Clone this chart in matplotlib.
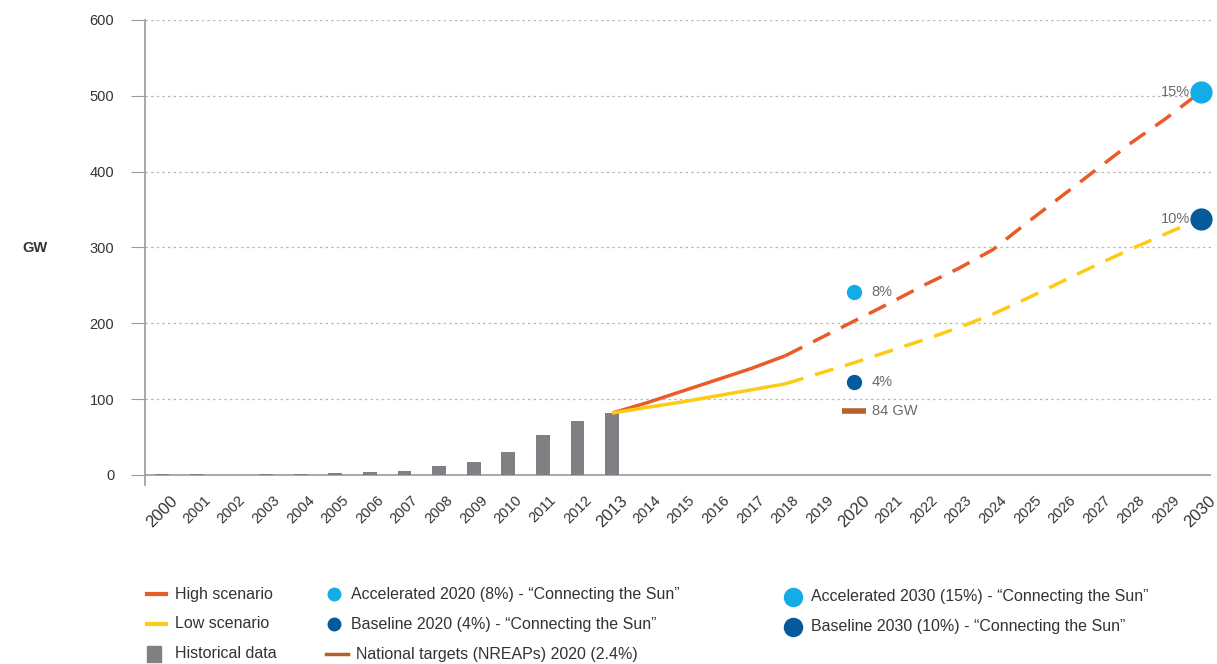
import numpy as np
from matplotlib import pyplot as plt
from matplotlib.lines import Line2D
from matplotlib.patches import Rectangle

plt.rcParams['font.family'] = ['Liberation Sans', 'DejaVu Sans']

# data
years = list(range(2000, 2031))
hist_years = list(range(2000, 2014))
hist_gw = [1.2, 1.0, 0.4, 0.6, 1.3, 2.3, 3.3, 5.3, 11.3, 16.9, 30.5, 52.9, 70.8, 81.5]

solid_years = [2013, 2014, 2015, 2016, 2017, 2018]
high_solid = [81.5, 95, 110, 125, 140, 157]
low_solid = [81.5, 89, 96, 104, 112, 120]

dash_years = list(range(2018, 2031))
high_dash = [157, 180, 203, 226, 250, 272, 297, 333, 368, 403, 438, 470, 505]
low_dash = [120, 134, 148, 163, 178, 194, 212, 233, 255, 277, 298, 318, 338]

acc_2020 = 241
base_2020 = 122
nreap_2020 = 84
acc_2030 = 505
base_2030 = 338

big_ticks = [2000, 2013, 2020, 2030]

c_high = '#ea5b2a'
c_low = '#fdcb13'
c_hist = '#808084'
c_acc = '#14ace6'
c_base = '#045a9a'
c_nreap = '#b5622a'
c_txt = '#6a6a6a'

fig = plt.figure(figsize=(12.17, 6.64), dpi=100)
ax = fig.add_axes([0.119, 0.27, 0.876, 0.70])

ax.bar(hist_years, hist_gw, width=0.4, color=c_hist, zorder=2)

ax.plot(solid_years, high_solid, color=c_high, lw=2.5, zorder=3, solid_capstyle='butt')
ax.plot(solid_years, low_solid, color=c_low, lw=2.5, zorder=3, solid_capstyle='butt')
ax.plot(dash_years, high_dash, color=c_high, lw=2.5, dashes=(5.5, 3.5), zorder=3)
ax.plot(dash_years, low_dash, color=c_low, lw=2.5, dashes=(5.5, 3.5), zorder=3)

ax.plot(2020, acc_2020, 'o', color=c_acc, ms=11, mec='none', zorder=4)
ax.plot(2020, base_2020, 'o', color=c_base, ms=11, mec='none', zorder=4)
ax.plot(2020, nreap_2020, '_', color=c_nreap, ms=17, mew=4, zorder=4)
ax.plot(2030, acc_2030, 'o', color=c_acc, ms=16, mec='none', zorder=4, clip_on=False)
ax.plot(2030, base_2030, 'o', color=c_base, ms=16, mec='none', zorder=4, clip_on=False)

ax.text(2020.5, acc_2020, '8%', color=c_txt, fontsize=10.5, va='center')
ax.text(2020.5, base_2020, '4%', color=c_txt, fontsize=10.5, va='center')
ax.text(2020.5, nreap_2020, '84 GW', color=c_txt, fontsize=10.5, va='center')
ax.text(2029.7, acc_2030, '15%', color=c_txt, fontsize=10.5, va='center', ha='right')
ax.text(2029.7, base_2030, '10%', color=c_txt, fontsize=10.5, va='center', ha='right')

ax.set_xlim(1999.5, 2030.3)
ax.set_ylim(-13, 600)
ax.set_yticks([0, 100, 200, 300, 400, 500, 600])
for y in [100, 200, 300, 400, 500, 600]:
    ax.axhline(y, color='#b8b8b8', lw=0.9, ls=(0, (2, 2.5)), zorder=1)
ax.axhline(0, color='#9a9a9a', lw=1.2, zorder=1)

ax.set_xticks(years)
ax.set_xticklabels([str(y) for y in years], rotation=45)
for lab, y in zip(ax.get_xticklabels(), years):
    lab.set_fontsize(12 if y in big_ticks else 10.5)
    lab.set_color('#333333')
ax.tick_params(axis='x', length=0, pad=6)
ax.tick_params(axis='y', length=10, color='#9a9a9a', labelsize=10.5, labelcolor='#333333', pad=12)

for s in ['top', 'right', 'bottom']:
    ax.spines[s].set_visible(False)
ax.spines['left'].set_color('#9a9a9a')
ax.spines['left'].set_linewidth(1.2)

fig.text(0.018, 0.626, 'GW', fontsize=10.5, fontweight='bold', color='#333333', va='center')

# legend
def fy(py):
    return 1 - py / 664

def fx(px):
    return px / 1217

lfs = 11.5
fig.add_artist(Line2D([fx(147), fx(166)], [fy(594), fy(594)], color=c_high, lw=3))
fig.text(fx(175), fy(594), 'High scenario', fontsize=lfs, color='#333333', va='center')
fig.add_artist(Line2D([fx(147), fx(166)], [fy(624), fy(624)], color=c_low, lw=3))
fig.text(fx(175), fy(624), 'Low scenario', fontsize=lfs, color='#333333', va='center')
fig.add_artist(Rectangle((fx(147), fy(662)), fx(14), 16 / 664, color=c_hist, transform=fig.transFigure))
fig.text(fx(175), fy(654), 'Historical data', fontsize=lfs, color='#333333', va='center')

fig.add_artist(Line2D([fx(334)], [fy(594)], marker='o', ms=10, color=c_acc, mec='none'))
fig.text(fx(351), fy(594), 'Accelerated 2020 (8%) - \u201cConnecting the Sun\u201d',
         fontsize=lfs, color='#333333', va='center')
fig.add_artist(Line2D([fx(334)], [fy(624)], marker='o', ms=10, color=c_base, mec='none'))
fig.text(fx(351), fy(624), 'Baseline 2020 (4%) - \u201cConnecting the Sun\u201d',
         fontsize=lfs, color='#333333', va='center')
fig.add_artist(Line2D([fx(326), fx(348)], [fy(654), fy(654)], color=c_nreap, lw=2.5))
fig.text(fx(356), fy(654), 'National targets (NREAPs) 2020 (2.4%)',
         fontsize=lfs, color='#333333', va='center')

fig.add_artist(Line2D([fx(793)], [fy(597)], marker='o', ms=14, color=c_acc, mec='none'))
fig.text(fx(811), fy(597), 'Accelerated 2030 (15%) - \u201cConnecting the Sun\u201d',
         fontsize=lfs, color='#333333', va='center')
fig.add_artist(Line2D([fx(793)], [fy(627)], marker='o', ms=14, color=c_base, mec='none'))
fig.text(fx(811), fy(627), 'Baseline 2030 (10%) - \u201cConnecting the Sun\u201d',
         fontsize=lfs, color='#333333', va='center')

fig.savefig('out.png', dpi=100)
